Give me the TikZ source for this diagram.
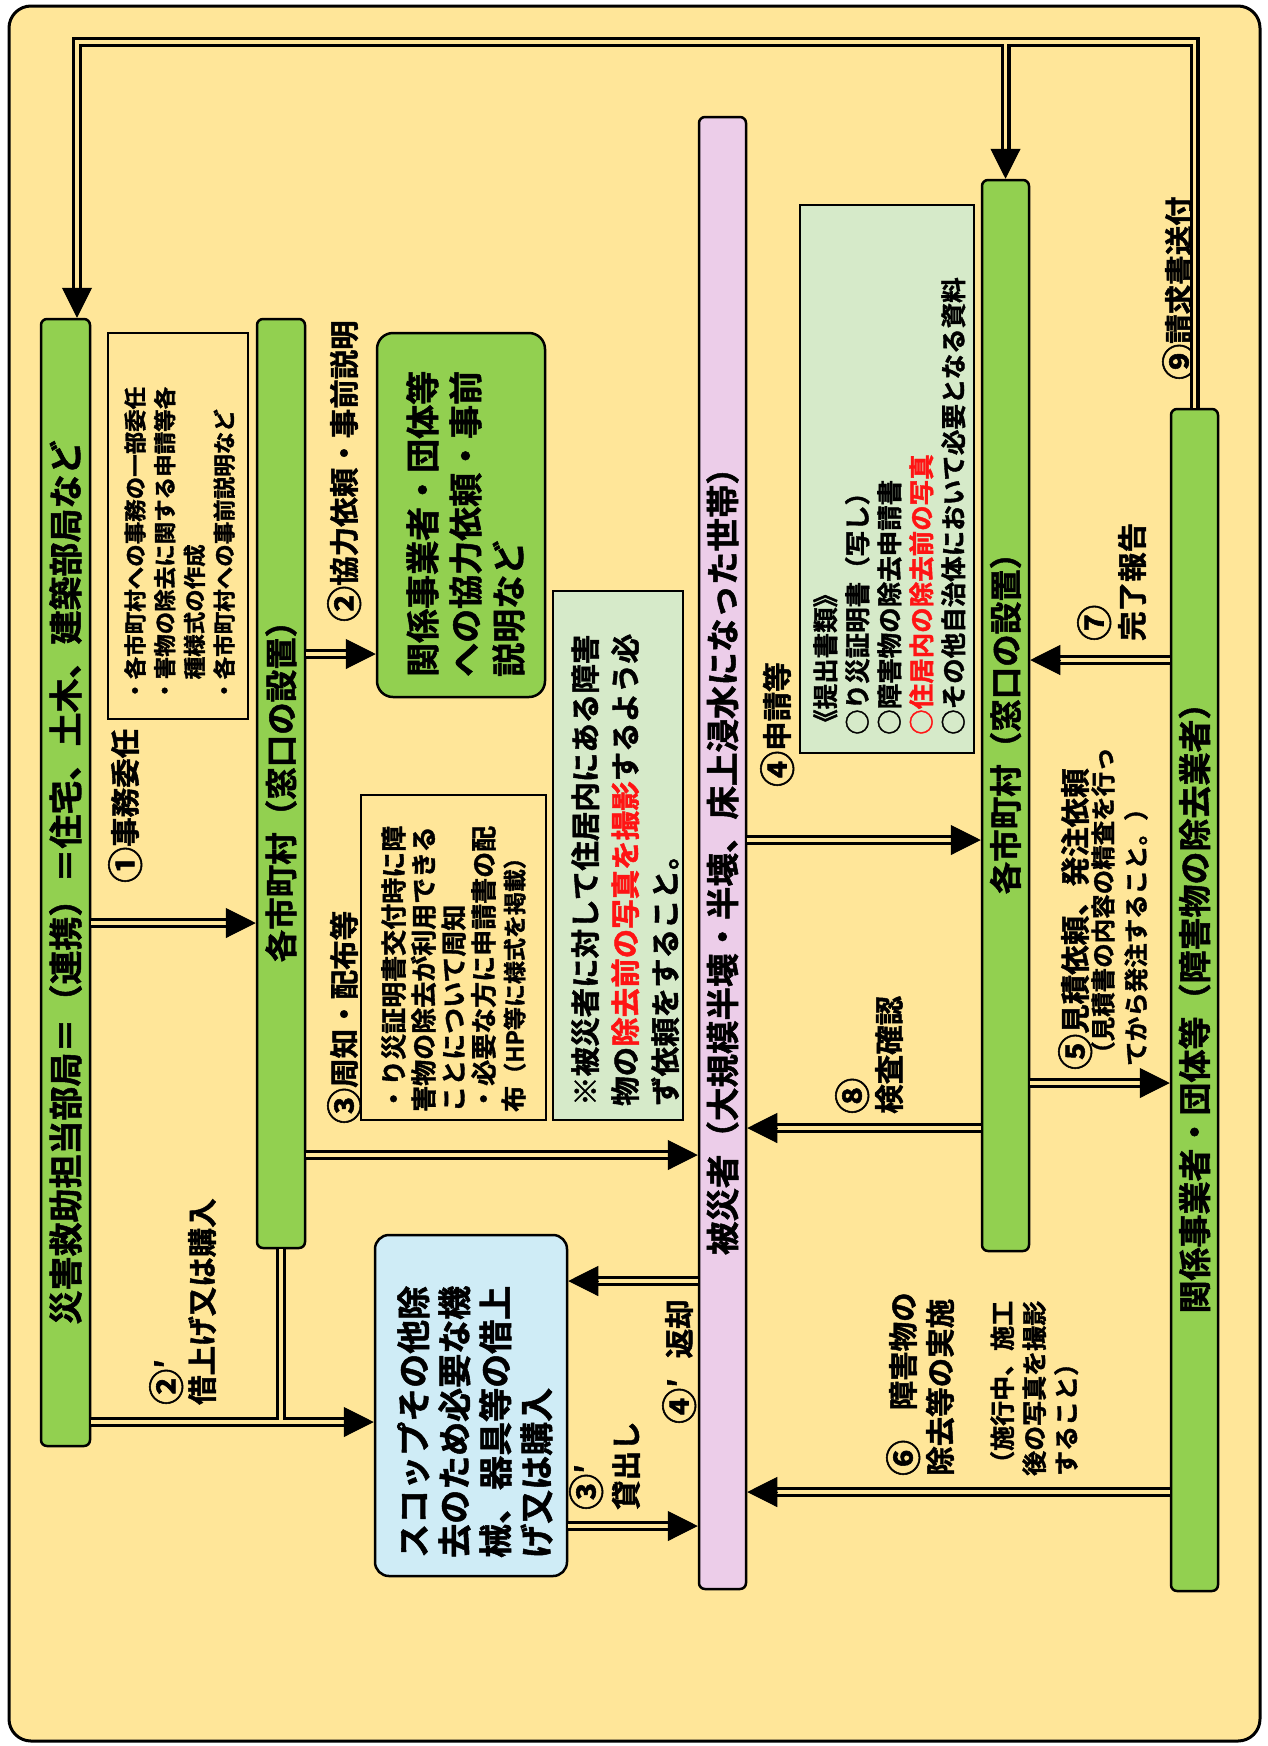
\documentclass[tikz,border=0pt]{standalone}
\usepackage{fontspec}
\setmainfont{Noto Sans CJK JP}[BoldFont={Noto Sans CJK JP Bold}, BoldFeatures={FakeBold=1.5}]
\usepackage{graphicx}
\usetikzlibrary{arrows.meta,calc}
\definecolor{bgY}{RGB}{255,230,153}
\definecolor{gG}{RGB}{146,208,80}
\definecolor{pk}{RGB}{236,205,233}
\definecolor{lg}{RGB}{214,234,201}
\definecolor{lb}{RGB}{207,236,246}
\definecolor{rd}{RGB}{255,20,20}
\newcommand\F[2]{\fontsize{#1}{#2}\selectfont\bfseries}
\newcommand\cn[1]{\raisebox{-0.09em}{\scalebox{1.22}{#1}}}
\newcommand\arr[2]{\draw[dbl] #1 -- ($#2!28pt!#1$);\draw[tipst] ($#2!30pt!#1$) -- #2;}
\tikzset{
 bar/.style={draw=black, line width=2.5pt, rounded corners=6pt, inner sep=0pt, fill=gG},
 notebox/.style={draw=black, line width=2pt, inner sep=0pt},
 lbl/.style={rotate=90, anchor=north west, inner sep=0pt, align=left, font={\F{29.5}{37}}},
 dbl/.style={draw=black, line width=3.3pt, double=bgY, double distance=3.4pt},
 tipst/.style={-{Triangle[length=30pt,width=30pt]}, draw=black, line width=1pt},
}
\begin{document}
\begin{tikzpicture}[x=1pt,y=-1pt]
\useasboundingbox (0,0) rectangle (1268,1746);
\fill[white] (0,0) rectangle (1268,1746);
\draw[line width=3pt, fill=bgY, rounded corners=22pt] (9,6) rectangle (1260,1741);

% bars
\node[bar, minimum width=49pt, minimum height=1127pt] (A) at (65.5,882.5) {\rotatebox{90}{\F{34}{34}災害救助担当部局＝（連携）＝住宅、土木、建築部局など}};
\node[bar, minimum width=48pt, minimum height=929pt] (B) at (281,783.5) {\rotatebox{90}{\F{32.5}{33}各市町村（窓口の設置）}};
\node[bar, fill=pk, minimum width=47pt, minimum height=1472pt] (E) at (722.5,853) {\rotatebox{90}{\F{33.5}{34}被災者（大規模半壊・半壊、床上浸水になった世帯）}};
\node[bar, minimum width=47pt, minimum height=1071pt] (G) at (1005.5,715.5) {\rotatebox{90}{\F{32.5}{33}各市町村（窓口の設置）}};
\node[bar, minimum width=47pt, minimum height=1182pt] (H) at (1194.5,1000) {\rotatebox{90}{\F{33}{33}関係事業者・団体等（障害物の除去業者）}};

% boxes
\node[notebox, minimum width=140pt, minimum height=386pt] (C) at (178,526) {};
\node[notebox, minimum width=185pt, minimum height=325pt] (I) at (453.5,957.5) {};
\node[notebox, fill=lg, minimum width=130pt, minimum height=529pt] (J) at (618,855.5) {};
\node[notebox, fill=lg, minimum width=174pt, minimum height=548pt] (F) at (887,479) {};
\node[bar, rounded corners=16pt, minimum width=168pt, minimum height=364pt] (D) at (461,515) {};
\node[bar, fill=lb, rounded corners=14pt, minimum width=192pt, minimum height=341pt] (K) at (471,1405.5) {};

% box texts
\node[lbl, font={\F{22.5}{29.7}}] (Ct) at (124,702) {・各市町村への事務の一部委任\\・害物の除去に関する申請等各\\\hspace*{1em}種様式の作成\\・各市町村への事前説明など};
\node[lbl, font={\F{26}{30}}] (It) at (381,1112) {・り災証明書交付時に障\\害物の除去が利用できる\\ことについて周知\\・必要な方に申請書の配\\布{\F{23}{30}（HP等に様式を掲載）}};
\node[lbl, font={\F{29.5}{40}}] (Jt) at (571,1106) {※被災者に対して住居内にある障害\\物の\textcolor{rd}{除去前の写真を撮影}するよう必\\ず依頼をすること。};
\node[lbl, font={\F{25.5}{32}}] (Ft) at (813,735) {《提出書類》\\○り災証明書（写し）\\○障害物の除去申請書\\\textcolor{rd}{○住居内の除去前の写真}\\○その他自治体において必要となる資料};
\node[lbl, font={\F{34}{43}}] (Dt) at (406,677) {関係事業者・団体等\\への協力依頼・事前\\説明など};
\node[lbl, font={\F{34}{41}}] (Kt) at (397,1558) {スコップその他除\\去のため必要な機\\械、器具等の借上\\げ又は購入};

% labels
\node[lbl] (L1) at (108,883) {\cn{①}事務委任};
\node[lbl] (L2) at (327,622) {\cn{②}協力依頼・事前説明};
\node[lbl] (L3) at (327,1124) {\cn{③}周知・配布等};
\node[lbl, font={\F{29.5}{36}}] (L2p) at (149,1405) {\cn{②}′\\借上げ又は購入};
\node[lbl, font={\F{29.5}{40}}] (L3p) at (569,1510) {\cn{③}′\\貸出し};
\node[lbl] (L4p) at (662,1424) {\cn{④}\makebox[1em][l]{′}返却};
\node[lbl] (L4) at (760,787) {\cn{④}申請等};
\node[lbl] (L5a) at (1058,1070) {\cn{⑤}見積依頼、発注依頼};
\node[lbl, font={\F{24.5}{33}}] (L5b) at (1091,1066) {（見積書の内容の精査を行っ\\てから発注すること。）};
\node[lbl, font={\F{29.5}{38}}] (L7) at (1077,641) {\cn{⑦}\\完了報告};
\node[lbl, font={\F{29.5}{37}}] (L8) at (835,1114) {\cn{⑧}\\検査確認};
\node[lbl, font={\F{29.5}{37}}] (L6) at (886,1476) {\cn{⑥}　障害物の\\除去等の実施};
\node[lbl, font={\F{25}{32}}] (L6b) at (990,1476) {（施行中、施工\\後の写真を撮影\\すること）};
\node[lbl] (L9) at (1162,380) {\cn{⑨}請求書送付};

% connectors
\draw[dbl] (H.north) -- (H.north |- 0,42) -- (77,42) -- (77,291)
           (G.north |- 0,42) -- ($(G.north)+(0,-28)$);
\draw[tipst] (77,289) -- (A.north -| 77,0);
\draw[tipst] ($(G.north)+(0,-30)$) -- (G.north);

\arr{(A.east |- 0,923)}{(B.west |- 0,923)}
\arr{(B.east |- 0,654)}{(D.west |- 0,654)}
\arr{(B.east |- 0,1155)}{(E.west |- 0,1155)}
\draw[dbl] (A.east |- 0,1422) -- ($(K.west |- 0,1422)+(-28,0)$)
           (B.south) -- (B.south |- 0,1422);
\draw[tipst] ($(K.west |- 0,1422)+(-30,0)$) -- (K.west |- 0,1422);
\arr{(K.east |- 0,1526)}{(E.west |- 0,1526)}
\arr{(E.west |- 0,1281)}{(K.east |- 0,1281)}
\arr{(E.east |- 0,840)}{(G.west |- 0,840)}
\arr{(G.west |- 0,1128)}{(E.east |- 0,1128)}
\arr{(G.east |- 0,1083)}{(H.west |- 0,1083)}
\arr{(H.west |- 0,660)}{(G.east |- 0,660)}
\arr{(H.west |- 0,1492)}{(E.east |- 0,1492)}
\end{tikzpicture}
\end{document}
